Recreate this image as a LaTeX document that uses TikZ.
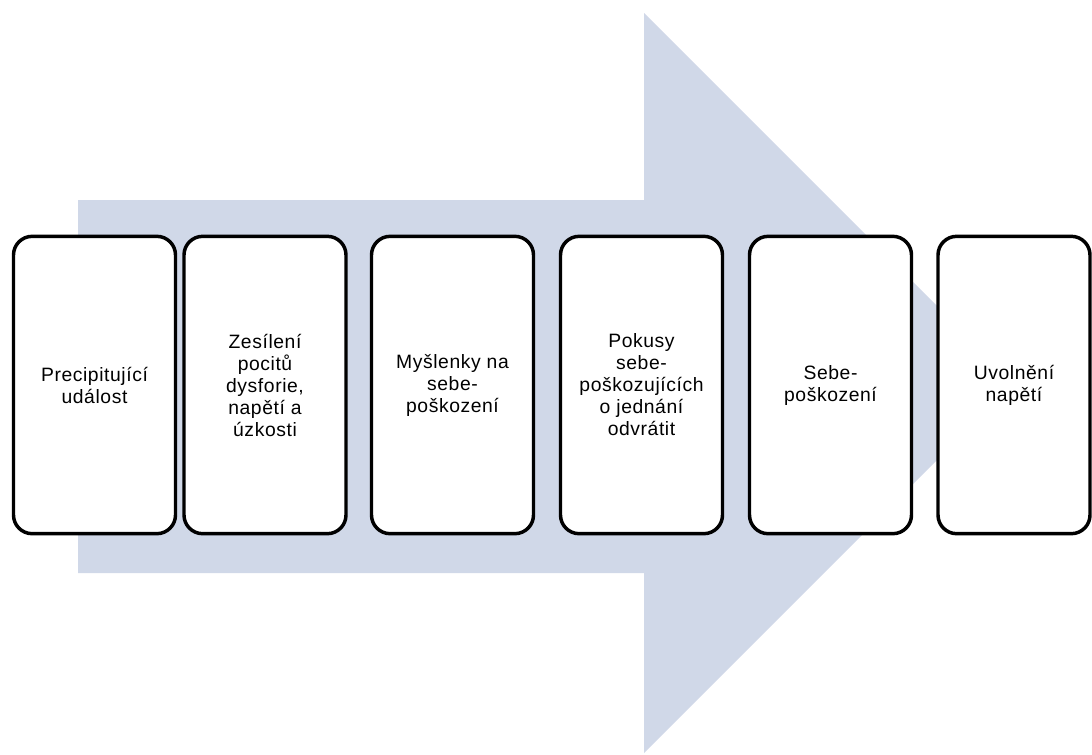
\documentclass[tikz,border=0pt]{standalone}
\usepackage{fontspec}
\setmainfont{Liberation Sans}[LetterSpace=3]
\usepackage{tikz}
\definecolor{arrowblue}{HTML}{D0D8E8}
\tikzset{
    stage/.style={draw, fill=white, line width=2.6pt, rounded corners=14pt,
        minimum width=121.5pt, minimum height=223pt, align=center, inner sep=2pt,
        font=\fontsize{14.5}{16.5}\selectfont},
}

\begin{document}
\begin{tikzpicture}[x=0.75pt,y=-0.75pt]
        \useasboundingbox (0,0) rectangle (1092,754);
        \fill[arrowblue] (78,200) -- (644,200) -- (644,13) -- (1014,383) -- (644,753) -- (644,573) -- (78,573) -- cycle;
        \node[stage] (precip) at (94.5,385) {Precipitující\\událost};
        \node[stage] (zesil) at (265,385) {Zesílení\\pocitů\\dysforie,\\napětí a\\úzkosti};
        \node[stage] (mysl) at (452.5,385) {Myšlenky na\\sebe-\\poškození};
        \node[stage] (pokus) at (641.5,385) {Pokusy\\sebe-\\poškozujících\\o jednání\\odvrátit};
        \node[stage] (sebe) at (830.5,385) {Sebe-\\poškození};
        \node[stage, minimum width=114pt] (uvol) at (1014,385) {Uvolnění\\napětí};
    \end{tikzpicture}
\end{document}
